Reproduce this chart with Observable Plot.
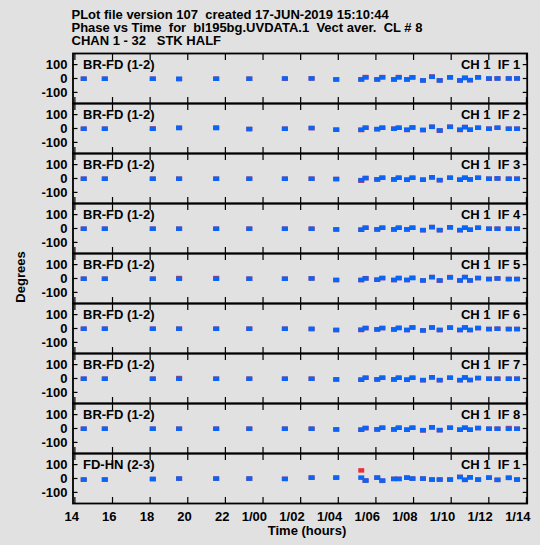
<!DOCTYPE html>
<html><head><meta charset="utf-8">
<script src="https://cdn.jsdelivr.net/npm/d3@7"></script>
<script src="https://cdn.jsdelivr.net/npm/@observablehq/plot@0.6"></script>
<style>
body{margin:0;background:#e1e1e1;}
#wrap{position:relative;width:540px;height:545px;font-family:"Liberation Sans",Arial,sans-serif;font-weight:bold;color:#000;overflow:hidden;}
#title{position:absolute;left:71.5px;top:8px;font-size:13px;line-height:13.1px;white-space:pre;}
#ylab{position:absolute;left:20px;top:277px;font-size:13px;transform:translate(-50%,-50%) rotate(-90deg);white-space:pre;}
#xlab{position:absolute;left:307px;top:523px;font-size:13px;transform:translateX(-50%);white-space:pre;}
#chart{position:absolute;left:0;top:0;}
</style></head><body>
<div id="wrap">
<div id="chart"></div>
<div id="title">PLot file version 107  created 17-JUN-2019 15:10:44
Phase vs Time  for  bl195bg.UVDATA.1  Vect aver.  CL # 8
CHAN 1 - 32   STK HALF</div>
<div id="ylab">Degrees</div>
<div id="xlab">Time (hours)</div>
</div>
<script>
// time of each scan (hours since 0h of day 0)
const times = [14.47, 15.59, 18.14, 19.54, 21.51, 23.27, 25.16, 26.58, 27.89, 29.22, 29.45, 30.07, 30.34, 30.96, 31.21, 31.65, 31.94, 32.5, 32.98, 33.39, 33.94, 34.47, 34.73, 35.0, 35.43, 36.01, 36.46, 37.06, 37.5];

const baselineLabels = ["BR-FD (1-2)", "BR-FD (1-2)", "BR-FD (1-2)", "BR-FD (1-2)", "BR-FD (1-2)", "BR-FD (1-2)", "BR-FD (1-2)", "BR-FD (1-2)", "FD-HN (2-3)"];
const ifLabels = ["CH 1  IF 1", "CH 1  IF 2", "CH 1  IF 3", "CH 1  IF 4", "CH 1  IF 5", "CH 1  IF 6", "CH 1  IF 7", "CH 1  IF 8", "CH 1  IF 1"];

// phase (degrees), blue polarization, one array per panel
const blue1 = [0, 0, 0, 0, 0, 0, 2, 2, -5, -5, 10, -5, 10, -5, 10, -5, 10, -12, 14, -12, 10, -12, 5, -10, 10, 2, 2, 2, 2];
const blue2 = [0, 0, 0, 5, 5, -2, 0, 5, -7, -7, 7, -2, 7, 0, 7, -7, 9, -9, 14, -12, 14, -7, 12, -7, 7, 0, 7, 0, 0];
const blue3 = [0, 0, 0, 0, 0, 0, 0, 0, -2, -10, 5, -5, 7, -5, 7, -7, 7, -7, 10, -10, 7, -7, 7, -5, 7, 0, 2, 0, 0];
const blue4 = [0, 0, 0, 0, 0, 0, 0, 0, -5, -7, 7, -5, 7, -5, 7, -5, 7, -10, 12, -10, 10, -10, 7, -7, 7, 0, 0, 0, 0];
const blue5 = [0, 0, 0, 0, 0, 0, 0, 2, -9, -9, 2, -7, 5, -9, 5, -9, 5, -12, 12, -12, 9, -12, 12, -12, 5, -2, 2, -2, -2];
const blue6 = [0, 0, 0, 0, 0, 0, 0, 0, -9, -7, 5, -5, 5, -5, 5, -9, 9, -12, 9, -9, 7, -9, 9, -9, 5, -2, 0, -2, -2];
const blue7 = [0, 0, 0, 0, 0, 0, 0, 0, -5, -7, 7, -5, 7, -5, 7, -7, 7, -10, 10, -10, 7, -10, 9, -9, 5, 0, 0, 0, 0];
const blue8 = [0, 0, 0, 0, 0, 0, 0, 0, -5, -7, 5, -5, 7, -5, 7, -7, 7, -10, 10, -10, 7, -7, 7, -7, 5, 0, 0, 0, 0];
const blue9 = [-6, -6, -1, 1, 1, 1, -1, 8, 8, 8, -13, 8, -13, -1, -1, 8, 1, 1, -6, -6, -6, 13, -8, 10, -6, 8, -8, 6, -6];

// phase (degrees), red polarization
const red1 = [0, 0, 0, -3, 0, 0, 0, 2, -5, -5, 12, -5, 12, -5, 12, -5, 10, -12, 16, -12, 10, -12, 8, -10, 10, 0, 2, 2, 2];
const red2 = [0, 0, 2, 8, 9, -2, 0, 5, -7, -9, 7, -4, 7, 0, 7, -9, 9, -9, 14, -14, 14, -9, 12, -7, 7, 0, 7, 0, 0];
const red3 = [0, 0, 0, 0, 0, 0, 0, 0, -2, -14, 5, -5, 7, -5, 7, -7, 7, -7, 10, -10, 7, -7, 7, -5, 7, 0, 2, 0, 0];
const red4 = [0, 0, 0, 0, 0, 0, 0, 0, -5, -7, 7, -5, 7, -5, 7, -5, 7, -10, 12, -10, 10, -10, 7, -7, 7, 0, 0, 0, 0];
const red5 = [0, 0, 0, 5, 5, 0, 0, 2, -9, -9, 4, -7, 5, -9, 5, -9, 7, -12, 12, -14, 12, -12, 12, -12, 5, -2, 2, -2, -2];
const red6 = [0, 0, 0, 0, 0, 0, 0, -3, -9, -9, 5, -5, 5, -5, 7, -9, 9, -12, 9, -9, 9, -9, 9, -9, 5, -2, 0, -2, -2];
const red7 = [0, 0, 0, 5, 0, 0, 0, 0, -5, -7, 7, -5, 7, -5, 7, -7, 7, -10, 10, -10, 7, -10, 9, -9, 5, 0, 0, 0, 0];
const red8 = [0, 0, 0, 0, 0, 0, 0, 0, -5, -7, 5, -5, 7, -5, 7, -7, 7, -12, 10, -10, 7, -7, 7, -7, 5, 0, 0, 5, 0];
const red9 = [-6, -6, -3, 1, 1, 1, -1, 8, 8, 60, -13, 8, -15, -1, -1, 8, 1, 1, -6, -6, -6, 13, -8, 10, -6, 8, -8, 8, -6];

const yTicks = [-100, 0, 100];
const xTicks = [14, 16, 18, 20, 22, 24, 26, 28, 30, 32, 34, 36, 38];
const xTickLabels = ["14", "16", "18", "20", "22", "1/00", "1/02", "1/04", "1/06", "1/08", "1/10", "1/12", "1/14"];

const blueSeries = [blue1, blue2, blue3, blue4, blue5, blue6, blue7, blue8, blue9];
const redSeries = [red1, red2, red3, red4, red5, red6, red7, red8, red9];

const panels = baselineLabels.map((b, p) => ({panel: p, left: b, right: ifLabels[p]}));
const rowsOf = (series) => series.flatMap((arr, p) => arr.map((v, i) => ({panel: p, t: times[i], phase: v})));
const blueRows = rowsOf(blueSeries);
const redRows = rowsOf(redSeries);
const labelMap = new Map(xTicks.map((t, i) => [t, xTickLabels[i]]));

const boxSymbol = {draw(ctx) { ctx.rect(-3, -2, 6, 4.5); }};

const chart = Plot.plot({
  width: 540,
  height: 545,
  marginTop: 50.6,
  marginBottom: 39,
  marginLeft: 72.5,
  marginRight: 13.3,
  style: {background: "transparent", fontFamily: "'Liberation Sans', Arial, sans-serif", fontWeight: "bold", fontSize: "13px", color: "#000", overflow: "visible"},
  x: {domain: [13.9, 38.04]},
  y: {domain: [-180, 180]},
  fy: {domain: d3.range(9), padding: 0, axis: null},
  marks: [
    Plot.dot(redRows, {x: "t", y: "phase", fy: "panel", symbol: boxSymbol, fill: "#e8303c", stroke: "none"}),
    Plot.dot(blueRows, {x: "t", y: "phase", fy: "panel", symbol: boxSymbol, fill: "#0a64f5", stroke: "none"}),
    Plot.axisY(yTicks, {anchor: "left", tickSize: 0, tickPadding: 5.5, tickFormat: d => String(d), label: null}),
    Plot.axisY(yTicks, {anchor: "left", tickSize: -5, tickFormat: () => "", label: null, stroke: "#000", strokeWidth: 1.2}),
    Plot.axisY(yTicks, {anchor: "right", tickSize: -5, tickFormat: () => "", label: null, stroke: "#000", strokeWidth: 1.2}),
    Plot.axisX(xTicks, {anchor: "top", tickSize: -6, tickFormat: () => "", label: null, facetAnchor: null, stroke: "#000", strokeWidth: 1.2}),
    Plot.axisX(xTicks, {anchor: "bottom", tickSize: -6, tickFormat: () => "", label: null, facetAnchor: null, stroke: "#000", strokeWidth: 1.2}),
    Plot.axisX(xTicks, {anchor: "bottom", tickSize: 0, tickPadding: 8, tickFormat: d => labelMap.get(d), textAnchor: "end", dx: 4, label: null}),
    Plot.frame({stroke: "#000", strokeWidth: 1.8}),
    Plot.text(panels, {fy: "panel", text: "left", frameAnchor: "top-left", lineAnchor: "top", textAnchor: "start", dx: 10, dy: 6.5}),
    Plot.text(panels, {fy: "panel", text: "right", frameAnchor: "top-right", lineAnchor: "top", textAnchor: "end", dx: -7, dy: 6})
  ]
});
document.getElementById("chart").appendChild(chart);
</script>
</body></html>
